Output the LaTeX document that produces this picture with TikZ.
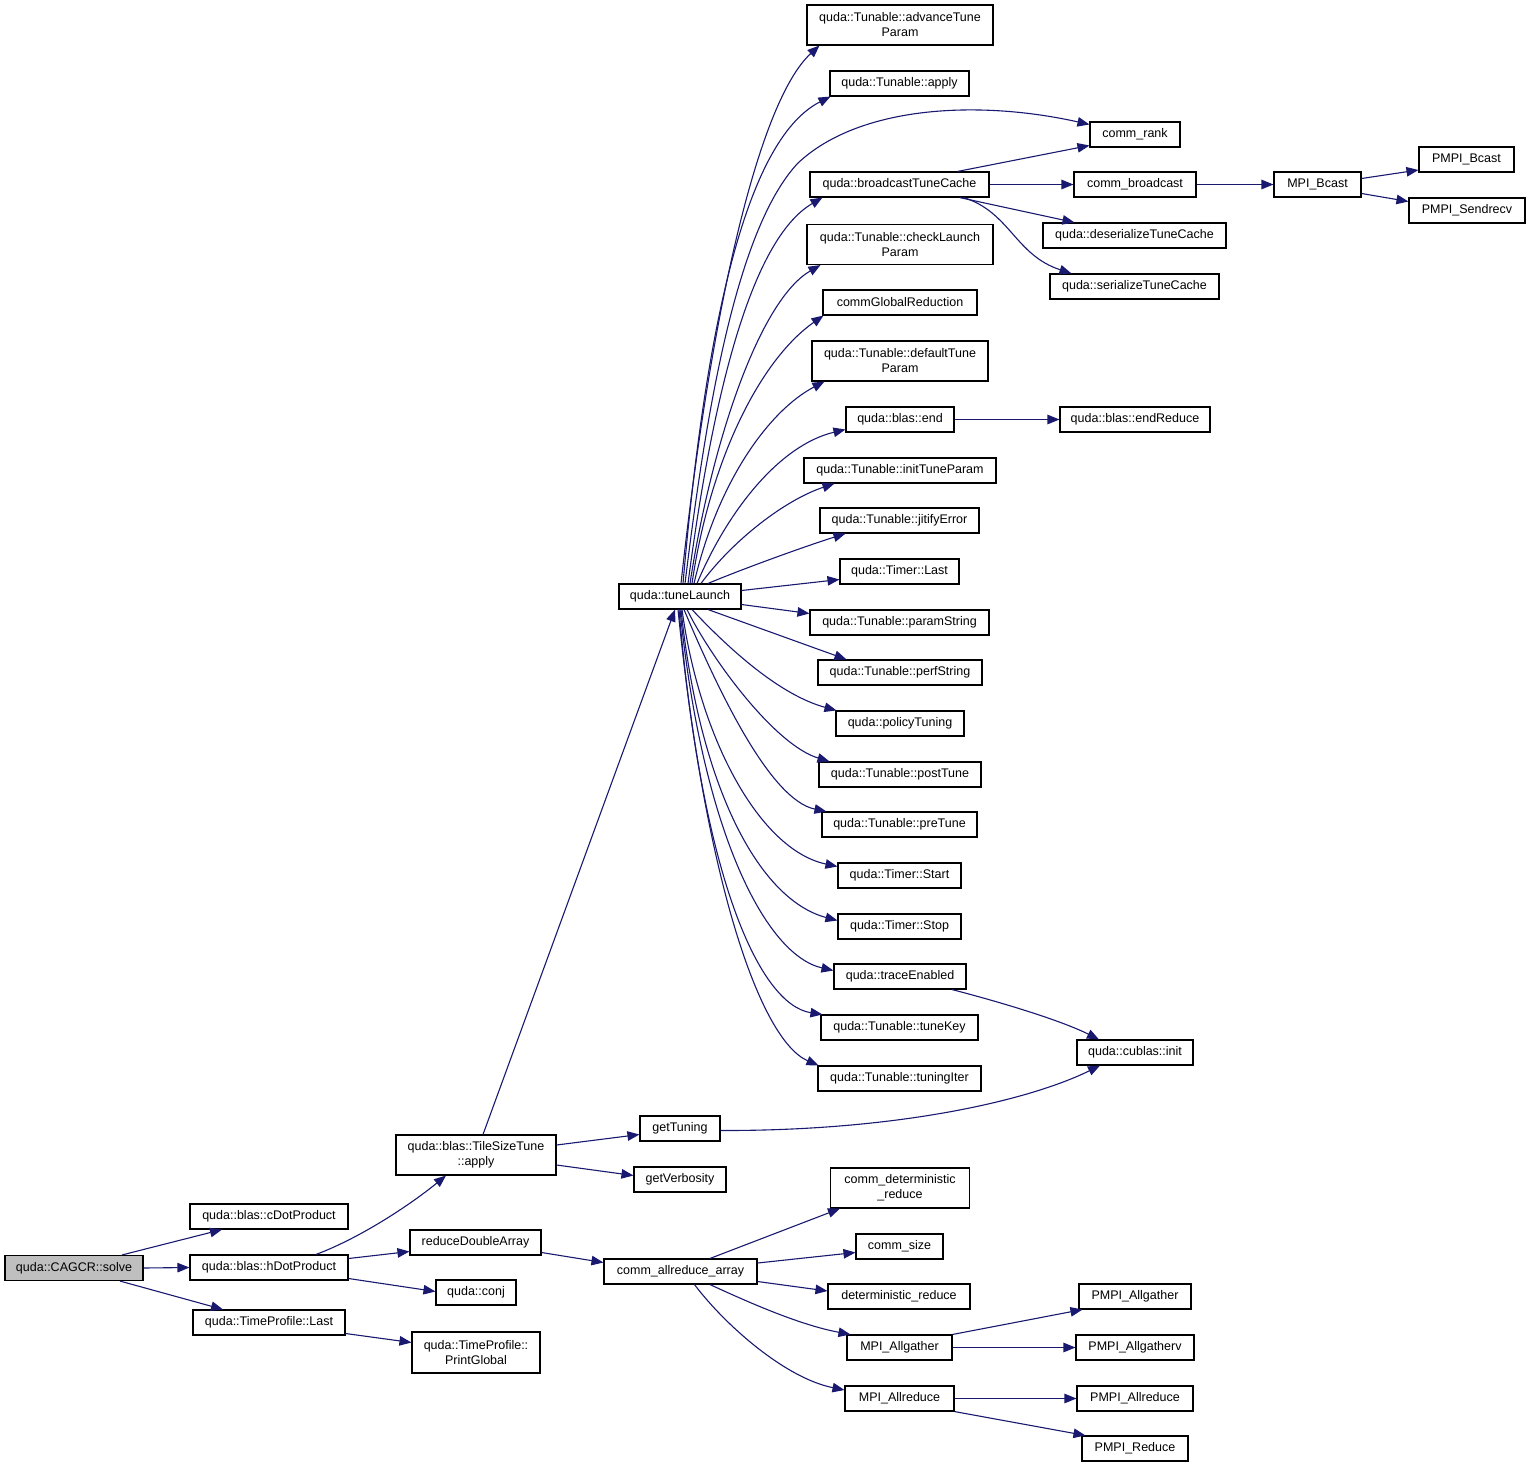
\documentclass[tikz,border=0pt]{standalone}
\usepackage{fontspec}
\setmainfont{Liberation Sans}
\usetikzlibrary{arrows.meta}
\definecolor{edgecol}{HTML}{191970}
\definecolor{boxgray}{HTML}{BFBFBF}
\begin{document}
\begin{tikzpicture}[x=1pt,y=-1pt,
  box/.style={draw=black, line width=1.1pt, rectangle, inner xsep=1pt, inner ysep=0pt, minimum height=25pt, font=\fontsize{12.5}{15}\selectfont, text=black, align=center},
  tall/.style={minimum height=40pt},
  edge/.style={draw=edgecol, line width=1.1pt, -{Triangle[length=12pt,width=9.5pt]}}]
\useasboundingbox (0,0) rectangle (1531,1469);
\fill[white] (0,0) rectangle (1531,1469);
% left part
\node[box,fill=boxgray,minimum width=138pt] (solve) at (74,1268) {quda::CAGCR::solve};
\node[box,minimum width=158pt] (cdot) at (269,1216.5) {quda::blas::cDotProduct};
\node[box,minimum width=158pt] (hdot) at (269,1267.5) {quda::blas::hDotProduct};
\node[box,minimum width=152pt] (tplast) at (269,1322.5) {quda::TimeProfile::Last};
\node[box,tall,minimum width=160pt] (tile) at (476,1155) {quda::blas::TileSizeTune\\::apply};
\node[box,minimum width=131pt] (rda) at (475.5,1242.5) {reduceDoubleArray};
\node[box,minimum width=80pt] (conj) at (476,1292.5) {quda::conj};
\node[box,minimum height=41pt,minimum width=128pt] (pglobal) at (476,1352.5) {quda::TimeProfile::\\PrintGlobal};
\node[box,minimum width=122pt] (tl) at (680,596.5) {quda::tuneLaunch};
\node[box,minimum width=80pt] (gett) at (680,1128.5) {getTuning};
\node[box,minimum width=92pt] (getv) at (680,1179.5) {getVerbosity};
\node[box,minimum width=153pt] (ara) at (680.5,1271.5) {comm\_allreduce\_array};
% column 900
\node[box,tall,minimum width=186pt] (adv) at (900,25) {quda::Tunable::advanceTune\\Param};
\node[box,minimum width=139pt] (tapply) at (899.5,83.5) {quda::Tunable::apply};
\node[box,minimum width=179pt] (btc) at (899.5,184.5) {quda::broadcastTuneCache};
\node[box,tall,minimum width=186pt] (clp) at (900,244.5) {quda::Tunable::checkLaunch\\Param};
\node[box,minimum width=154pt] (cgr) at (900,302.5) {commGlobalReduction};
\node[box,tall,minimum width=176pt] (dtp) at (900,361) {quda::Tunable::defaultTune\\Param};
\node[box,minimum width=108pt] (bend) at (900,419.5) {quda::blas::end};
\node[box,minimum width=192pt] (itp) at (900,470.5) {quda::Tunable::initTuneParam};
\node[box,minimum width=159pt] (jit) at (899.5,520.5) {quda::Tunable::jitifyError};
\node[box,minimum width=119pt] (tlast) at (899.5,571.5) {quda::Timer::Last};
\node[box,minimum width=179pt] (pstr) at (899.5,622.5) {quda::Tunable::paramString};
\node[box,minimum width=164pt] (pfs) at (900,672.5) {quda::Tunable::perfString};
\node[box,minimum width=128pt] (pol) at (900,723.5) {quda::policyTuning};
\node[box,minimum width=162pt] (post) at (900,774.5) {quda::Tunable::postTune};
\node[box,minimum width=155pt] (pre) at (899.5,824.5) {quda::Tunable::preTune};
\node[box,minimum width=123pt] (tstart) at (899.5,875.5) {quda::Timer::Start};
\node[box,minimum width=123pt] (tstop) at (899.5,926.5) {quda::Timer::Stop};
\node[box,minimum width=132pt] (trace) at (900,976.5) {quda::traceEnabled};
\node[box,minimum width=157pt] (tkey) at (899.5,1027.5) {quda::Tunable::tuneKey};
\node[box,minimum width=163pt] (titer) at (899.5,1078.5) {quda::Tunable::tuningIter};
\node[box,tall,minimum width=139pt] (cdr) at (900,1188) {comm\_deterministic\\\_reduce};
\node[box,minimum width=87pt] (csize) at (899.5,1246.5) {comm\_size};
\node[box,minimum width=142pt] (dred) at (899,1296.5) {deterministic\_reduce};
\node[box,minimum width=105pt] (mag) at (899.5,1347.5) {MPI\_Allgather};
\node[box,minimum width=109pt] (mar) at (899.5,1398.5) {MPI\_Allreduce};
% column 1135
\node[box,minimum width=90pt] (crank) at (1135,134.5) {comm\_rank};
\node[box,minimum width=122pt] (cbc) at (1135,184.5) {comm\_broadcast};
\node[box,minimum width=183pt] (deser) at (1134.5,235.5) {quda::deserializeTuneCache};
\node[box,minimum width=169pt] (ser) at (1134.5,286.5) {quda::serializeTuneCache};
\node[box,minimum width=150pt] (endr) at (1135,419.5) {quda::blas::endReduce};
\node[box,minimum width=116pt] (cub) at (1135,1052.5) {quda::cublas::init};
\node[box,minimum width=112pt] (pag) at (1135,1296.5) {PMPI\_Allgather};
\node[box,minimum width=118pt] (pagv) at (1135,1347.5) {PMPI\_Allgatherv};
\node[box,minimum width=116pt] (par) at (1135,1398.5) {PMPI\_Allreduce};
\node[box,minimum width=106pt] (pred) at (1135,1448.5) {PMPI\_Reduce};
\node[box,minimum width=87pt] (mbc) at (1317.5,184.5) {MPI\_Bcast};
\node[box,minimum width=95pt] (pbc) at (1466.5,159.5) {PMPI\_Bcast};
\node[box,minimum width=116pt] (psr) at (1467,210.5) {PMPI\_Sendrecv};
% edges left
\draw[edge] ([xshift=48pt]solve.north) -- ([xshift=-47pt]cdot.south);
\draw[edge] (solve.east) -- (hdot.west);
\draw[edge] ([xshift=46pt]solve.south) -- ([xshift=-46pt]tplast.north);
\draw[edge] ([xshift=47pt]hdot.north) .. controls (360,1238) and (410,1205) .. ([xshift=-30pt]tile.south);
\draw[edge] ([yshift=9pt]hdot.east) -- ([yshift=-9pt]rda.west);
\draw[edge] ([yshift=-11pt]hdot.east) -- ([yshift=1pt]conj.west);
\draw[edge] ([yshift=-11pt]tplast.east) -- ([yshift=10pt]pglobal.west);
\draw[edge] ([yshift=10pt]tile.east) -- ([yshift=-6pt]gett.west);
\draw[edge] ([yshift=-10pt]tile.east) -- ([yshift=4pt]getv.west);
\draw[edge] ([xshift=7pt]tile.north) -- ([xshift=-5pt]tl.south);
\draw[edge] ([yshift=-10pt]rda.east) -- ([yshift=9pt]ara.west);
\draw[edge] ([yshift=-2pt]gett.east) .. controls (900,1131) and (1030,1100) .. ([xshift=-35pt]cub.south);
\draw[edge] ([xshift=52pt]trace.south) .. controls (1000,1002) and (1060,1020) .. ([xshift=-36pt]cub.north);
% fan up
\draw[edge] ([xshift=1pt]tl.north) .. controls (712,300) and (760,100) .. ([xshift=13pt]adv.south west);
\draw[edge] ([xshift=3pt]tl.north) .. controls (705,330) and (745,140) .. ([xshift=1pt]tapply.south west);
\draw[edge] ([xshift=5pt]tl.north) .. controls (705,420) and (735,230) .. (798,163) .. controls (860,105) and (980,100) .. ([yshift=10pt]crank.west);
\draw[edge] ([xshift=8pt]tl.north) .. controls (712,400) and (750,240) .. ([xshift=13pt]btc.south west);
\draw[edge] ([xshift=10pt]tl.north) .. controls (712,440) and (760,300) .. ([xshift=14pt]clp.south west);
\draw[edge] ([xshift=12pt]tl.north) .. controls (710,460) and (760,360) .. ([xshift=1pt]cgr.south west);
\draw[edge] ([xshift=14pt]tl.north) .. controls (718,480) and (770,410) .. ([xshift=13pt]dtp.south west);
\draw[edge] ([xshift=17pt]tl.north) .. controls (728,510) and (780,445) .. ([yshift=-10pt]bend.west);
\draw[edge] ([xshift=21pt]tl.north) .. controls (733,540) and (785,500) .. ([xshift=31pt]itp.south west);
\draw[edge] ([xshift=28pt]tl.north) .. controls (740,570) and (800,548) .. ([xshift=26pt]jit.south west);
\draw[edge] ([yshift=6pt]tl.east) -- ([yshift=-8pt]tlast.west);
% fan down
\draw[edge] ([yshift=-8pt]tl.east) -- ([yshift=9pt]pstr.west);
\draw[edge] ([xshift=28pt]tl.south) -- ([xshift=29pt]pfs.north west);
\draw[edge] ([xshift=12pt]tl.south) .. controls (730,650) and (780,695) .. ([xshift=1pt]pol.north west);
\draw[edge] ([xshift=7pt]tl.south) .. controls (712,660) and (775,745) .. ([xshift=11pt]post.north west);
\draw[edge] ([xshift=4pt]tl.south) .. controls (718,690) and (770,800) .. ([xshift=5pt]pre.north west);
\draw[edge] ([xshift=2pt]tl.south) .. controls (700,740) and (760,850) .. ([yshift=9pt]tstart.west);
\draw[edge] ([xshift=1pt]tl.south) .. controls (700,790) and (760,900) .. ([yshift=6pt]tstop.west);
\draw[edge] (tl.south) .. controls (702,830) and (765,955) .. ([yshift=6pt]trace.west);
\draw[edge] ([xshift=-1pt]tl.south) .. controls (702,880) and (760,1005) .. ([xshift=2pt]tkey.north west);
\draw[edge] ([xshift=-2pt]tl.south) .. controls (705,880) and (760,1040) .. ([xshift=1pt]titer.north west);
% right top
\draw[edge] ([xshift=58pt]btc.north) -- ([yshift=-11pt]crank.west);
\draw[edge] (btc.east) -- (cbc.west);
\draw[edge] ([xshift=60pt]btc.south) -- ([xshift=32pt]deser.north west);
\draw[edge] ([xshift=64pt]btc.south) .. controls (1010,212) and (1015,255) .. ([xshift=22pt]ser.north west);
\draw[edge] (cbc.east) -- (mbc.west);
\draw[edge] ([yshift=6pt]mbc.east) -- ([yshift=-10.5pt]pbc.west);
\draw[edge] ([yshift=-9pt]mbc.east) -- ([yshift=9pt]psr.west);
\draw[edge] (bend.east) -- (endr.west);
% bottom
\draw[edge] ([xshift=29.5pt]ara.north) -- ([xshift=10pt]cdr.south west);
\draw[edge] ([yshift=8.5pt]ara.east) -- ([yshift=-6pt]csize.west);
\draw[edge] ([yshift=-10pt]ara.east) -- ([yshift=5.5pt]dred.west);
\draw[edge] ([xshift=29.5pt]ara.south) .. controls (750,1303) and (800,1325) .. ([xshift=4pt]mag.north west);
\draw[edge] ([xshift=14pt]ara.south) .. controls (725,1325) and (785,1378) .. ([yshift=8.5pt]mar.west);
\draw[edge] (mag.north east) -- ([xshift=4pt]pag.south west);
\draw[edge] (mag.east) -- (pagv.west);
\draw[edge] (mar.east) -- (par.west);
\draw[edge] (mar.south east) -- ([xshift=4pt]pred.north west);
\end{tikzpicture}
\end{document}
